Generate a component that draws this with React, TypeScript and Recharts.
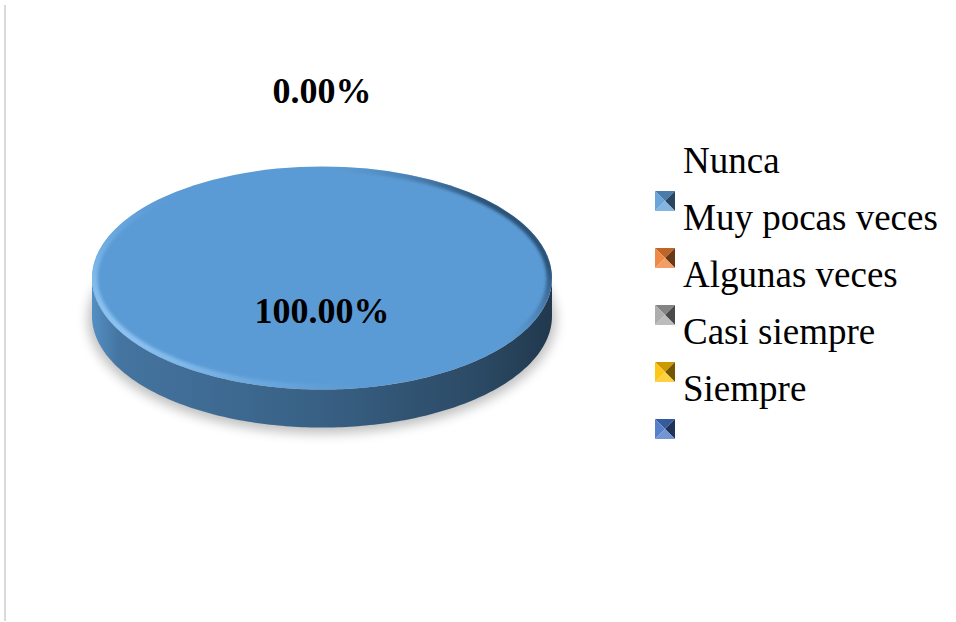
import { PieChart, Pie, Cell, Legend } from "recharts";

const categorias = ["Nunca", "Muy pocas veces", "Algunas veces", "Casi siempre", "Siempre"];
const valores = [100, 0, 0, 0, 0];
const colores = ["#5B9BD5", "#ED7D31", "#A5A5A5", "#FFC000", "#4472C4"];

const data = categorias.map((nombre, i) => ({ nombre, valor: valores[i] }));

// perspectiva del pastel 3D
const K = 0.485;
const DEPTH = 38;
const RAD = Math.PI / 180;
const FONT = "Liberation Serif";

function mix(hex: string, f: number) {
  const n = parseInt(hex.slice(1), 16);
  const ch = [(n >> 16) & 255, (n >> 8) & 255, n & 255].map((c) =>
    Math.round(f < 1 ? c * f : c + (255 - c) * (f - 1))
  );
  return `rgb(${ch[0]},${ch[1]},${ch[2]})`;
}

function Sector3D(props: any) {
  const { cx, cy, outerRadius, startAngle, endAngle, fill, index } = props;
  if (Math.abs(startAngle - endAngle) < 0.01) return null;
  const rx = outerRadius;
  const ry = outerRadius * K;
  const pt = (a: number, dy = 0) => [cx + rx * Math.cos(a * RAD), cy - ry * Math.sin(a * RAD) + dy];
  const lo = Math.min(startAngle, endAngle);
  const hi = Math.max(startAngle, endAngle);
  const full = hi - lo >= 359.99;

  // tramos frontales (parte de abajo de la elipse) para la pared lateral
  const runs: number[][] = [];
  let cur: number[] = [];
  for (let a = lo; a <= hi + 0.001; a += 1) {
    const ang = Math.min(a, hi);
    if (Math.sin(ang * RAD) <= 0.0001) cur.push(ang);
    else if (cur.length) {
      runs.push(cur);
      cur = [];
    }
  }
  if (cur.length) runs.push(cur);

  const walls = runs
    .filter((r) => r.length > 1)
    .map((r) => {
      const top = r.map((a) => pt(a));
      const bot = r.slice().reverse().map((a) => pt(a, DEPTH));
      return "M" + top.concat(bot).map((p) => p.join(",")).join("L") + "Z";
    });

  const s = pt(startAngle);
  const e = pt(endAngle);
  const large = hi - lo > 180 ? 1 : 0;
  const sweep = startAngle > endAngle ? 1 : 0;
  const topPath = full
    ? ""
    : `M${cx},${cy}L${s[0]},${s[1]}A${rx},${ry} 0 ${large} ${sweep} ${e[0]},${e[1]}Z`;

  const id = `s3d-${index}`;
  return (
    <g>
      <defs>
        <linearGradient id={`${id}-side`} gradientUnits="userSpaceOnUse" x1={cx - rx} y1={0} x2={cx + rx} y2={0}>
          <stop offset="0" stopColor={mix(fill, 0.92)} />
          <stop offset="0.06" stopColor={mix(fill, 0.75)} />
          <stop offset="0.5" stopColor={mix(fill, 0.62)} />
          <stop offset="0.85" stopColor={mix(fill, 0.47)} />
          <stop offset="1" stopColor={mix(fill, 0.36)} />
        </linearGradient>
        <linearGradient id={`${id}-rim`} x1="0.05" y1="0.9" x2="1" y2="0.45">
          <stop offset="0" stopColor="#a4d6ff" stopOpacity="0.95" />
          <stop offset="0.45" stopColor={fill} stopOpacity="0" />
          <stop offset="0.75" stopColor={fill} stopOpacity="0" />
          <stop offset="1" stopColor="#1c3a58" stopOpacity="0.75" />
        </linearGradient>
        <filter id={`${id}-blur`} x="-20%" y="-40%" width="140%" height="180%">
          <feGaussianBlur stdDeviation="6" />
        </filter>
        <filter id={`${id}-soft`} x="-10%" y="-10%" width="120%" height="120%">
          <feGaussianBlur stdDeviation="1.5" />
        </filter>
        <clipPath id={`${id}-clip`}>
          {full ? <ellipse cx={cx} cy={cy} rx={rx} ry={ry} /> : <path d={topPath} />}
        </clipPath>
      </defs>
      {full && (
        <ellipse
          cx={cx}
          cy={cy + DEPTH + 3}
          rx={rx + 4}
          ry={ry + 3}
          fill="#000"
          opacity={0.25}
          filter={`url(#${id}-blur)`}
        />
      )}
      {walls.map((d, i) => (
        <path key={i} d={d} fill={`url(#${id}-side)`} />
      ))}
      {full ? <ellipse cx={cx} cy={cy} rx={rx} ry={ry} fill={fill} /> : <path d={topPath} fill={fill} />}
      <g clipPath={`url(#${id}-clip)`}>
        <ellipse
          cx={cx}
          cy={cy}
          rx={rx - 2}
          ry={ry - 2}
          fill="none"
          stroke={`url(#${id}-rim)`}
          strokeWidth={7}
          filter={`url(#${id}-soft)`}
        />
      </g>
    </g>
  );
}

function Etiqueta(props: any) {
  const { cx, cy, midAngle, outerRadius, percent, index } = props;
  // las porciones en cero caen en el mismo punto: se escribe una sola vez
  if (percent === 0 && index > 0 && valores[index - 1] === 0) return null;
  const ry = outerRadius * K;
  const sin = Math.sin(midAngle * RAD);
  const cos = Math.cos(midAngle * RAD);
  let x: number, y: number;
  if (percent > 0) {
    x = cx + 0.3 * outerRadius * cos;
    y = cy - 0.3 * ry * sin;
  } else {
    x = cx + (outerRadius + 40) * cos;
    y = cy - (ry + 75) * sin;
  }
  return (
    <text
      x={x}
      y={y}
      textAnchor="middle"
      dominantBaseline="central"
      fontFamily={FONT}
      fontWeight="bold"
      fontSize={36}
      fill="#000"
    >
      {(percent * 100).toFixed(2)}%
    </text>
  );
}

function Marcador({ x, y, color }: { x: number; y: number; color: string }) {
  const m = 20;
  const c = [x + m / 2, y + m / 2];
  return (
    <g>
      <polygon points={`${x},${y} ${x + m},${y} ${c[0]},${c[1]}`} fill={mix(color, 0.8)} />
      <polygon points={`${x + m},${y} ${x + m},${y + m} ${c[0]},${c[1]}`} fill={mix(color, 0.45)} />
      <polygon points={`${x},${y + m} ${x + m},${y + m} ${c[0]},${c[1]}`} fill={mix(color, 1.25)} />
      <polygon points={`${x},${y} ${x},${y + m} ${c[0]},${c[1]}`} fill={mix(color, 1.1)} />
    </g>
  );
}

function Leyenda({ payload }: any) {
  const items = (payload || [])
    .slice()
    .sort((a: any, b: any) => categorias.indexOf(a.value) - categorias.indexOf(b.value));
  return (
    <svg width={312} height={320} style={{ display: "block" }}>
      {items.map((p: any, i: number) => (
        <g key={`ley-${i}`}>
          <Marcador x={15} y={51 + 57 * i} color={p.color} />
          <text x={43} y={33 + 57 * i} fontFamily={FONT} fontSize={37} fill="#000">
            {p.value}
          </text>
        </g>
      ))}
    </svg>
  );
}

export default function App() {
  return (
    <div style={{ position: "absolute", left: 0, top: 0, width: 956, height: 622, background: "#fff" }}>
      <div style={{ position: "absolute", left: 4, top: 5, width: 2, height: 616, background: "#dadada" }} />
      <PieChart width={956} height={622} margin={{ top: 0, right: 0, bottom: 0, left: 0 }}>
        <Pie
          data={data}
          dataKey="valor"
          nameKey="nombre"
          cx={322}
          cy={278}
          outerRadius={230}
          startAngle={90}
          endAngle={-270}
          stroke="none"
          isAnimationActive={false}
          label={Etiqueta}
          labelLine={false}
          shape={Sector3D}
          activeShape={Sector3D}
          inactiveShape={Sector3D}
        >
          {data.map((_, i) => (
            <Cell key={`cell-${i}`} fill={colores[i % colores.length]} />
          ))}
        </Pie>
        <Legend
          layout="vertical"
          align="right"
          verticalAlign="middle"
          content={<Leyenda />}
          wrapperStyle={{ left: 640, top: 140, width: 312, height: 320 }}
        />
      </PieChart>
    </div>
  );
}
